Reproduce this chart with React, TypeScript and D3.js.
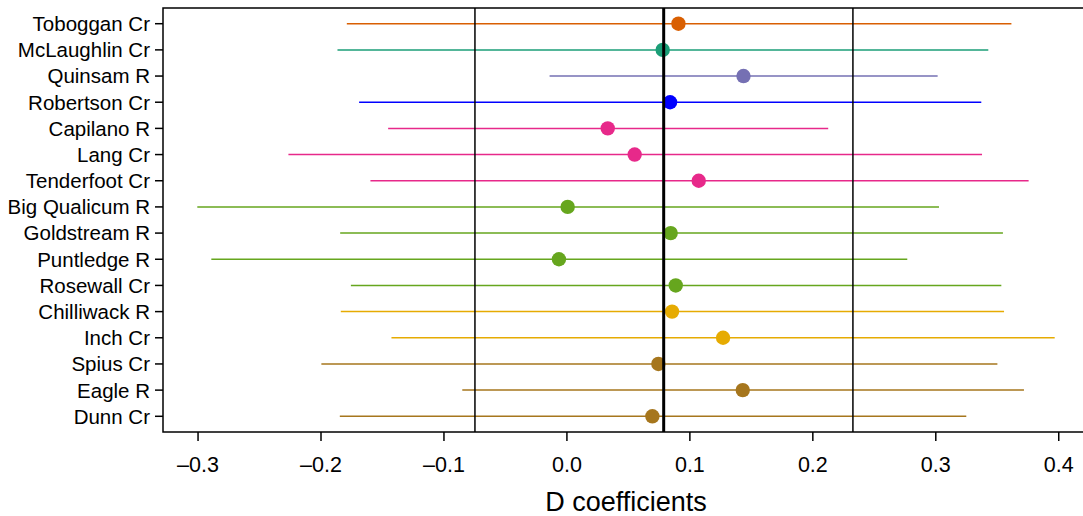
import React from "react";
import * as d3 from "d3";

const sites = [
  "Toboggan Cr", "McLaughlin Cr", "Quinsam R", "Robertson Cr", "Capilano R", "Lang Cr",
  "Tenderfoot Cr", "Big Qualicum R", "Goldstream R", "Puntledge R", "Rosewall Cr",
  "Chilliwack R", "Inch Cr", "Spius Cr", "Eagle R", "Dunn Cr",
];
const dValues = [
  0.0907, 0.0779, 0.1436, 0.0839, 0.0332, 0.0551, 0.1072, 0.0006,
  0.0844, -0.0065, 0.0885, 0.0855, 0.127, 0.0744, 0.143, 0.0695,
];
const lowerCI = [
  -0.179, -0.1866, -0.0141, -0.169, -0.1454, -0.2265, -0.1598, -0.3006,
  -0.1844, -0.2892, -0.1757, -0.1839, -0.1427, -0.1997, -0.0851, -0.1847,
];
const upperCI = [
  0.3615, 0.3427, 0.3015, 0.337, 0.2125, 0.3376, 0.3755, 0.3026,
  0.3546, 0.2768, 0.3533, 0.3555, 0.3967, 0.3501, 0.3717, 0.3248,
];
const siteColors = [
  "#d95f02", "#1b9e77", "#7570b3", "#0000ff", "#e7298a", "#e7298a",
  "#e7298a", "#66a61e", "#66a61e", "#66a61e", "#66a61e",
  "#e6ab02", "#e6ab02", "#a6761d", "#a6761d", "#a6761d",
];
const thinRefLines = [-0.0748, 0.2326];
const meanLine = 0.0787;
const xTicks = [-0.3, -0.2, -0.1, 0.0, 0.1, 0.2, 0.3, 0.4];

const W = 1083;
const H = 516;
const left = 163;
const right = 1089;
const top = 8;
const bottom = 432;
const font = "'Liberation Sans', Arial, Helvetica, sans-serif";

export default function App() {
  const x = d3.scaleLinear().domain([-0.3285, 0.4246]).range([left, right]);
  const y = d3.scaleLinear().domain([0.4, 16.6]).range([top, bottom]);

  return (
    <svg width={W} height={H} style={{ position: "absolute", left: 0, top: 0, background: "#fff" }}>
      <rect x={left} y={top} width={right - left} height={bottom - top} fill="none" stroke="#000" strokeWidth={1.5} />
      {sites.map((s, i) => (
        <line key={"seg" + s} x1={x(lowerCI[i])} x2={x(upperCI[i])} y1={y(i + 1)} y2={y(i + 1)}
          stroke={siteColors[i]} strokeWidth={1.5} />
      ))}
      {sites.map((s, i) => (
        <circle key={"pt" + s} cx={x(dValues[i])} cy={y(i + 1)} r={7.2} fill={siteColors[i]} />
      ))}
      {thinRefLines.map((v) => (
        <line key={"ref" + v} x1={x(v)} x2={x(v)} y1={top} y2={bottom} stroke="#000" strokeWidth={1.5} />
      ))}
      <line x1={x(meanLine)} x2={x(meanLine)} y1={top} y2={bottom} stroke="#000" strokeWidth={3} />
      {sites.map((s, i) => (
        <g key={"yt" + s}>
          <line x1={left} x2={left - 8} y1={y(i + 1)} y2={y(i + 1)} stroke="#000" strokeWidth={1.5} />
          <text x={left - 13} y={y(i + 1)} dy="0.36em" textAnchor="end" fontFamily={font} fontSize={20.5} fill="#000">
            {s}
          </text>
        </g>
      ))}
      {xTicks.map((t) => (
        <g key={"xt" + t}>
          <line x1={x(t)} x2={x(t)} y1={bottom} y2={bottom + 9} stroke="#000" strokeWidth={1.5} />
          <text x={x(t)} y={472} textAnchor="middle" fontFamily={font} fontSize={21.5} fill="#000">
            {(t < 0 ? "\u2013" : "") + Math.abs(t).toFixed(1)}
          </text>
        </g>
      ))}
      <text x={(left + right) / 2} y={510.5} textAnchor="middle" fontFamily={font} fontSize={27} fill="#000">
        D coefficients
      </text>
    </svg>
  );
}
